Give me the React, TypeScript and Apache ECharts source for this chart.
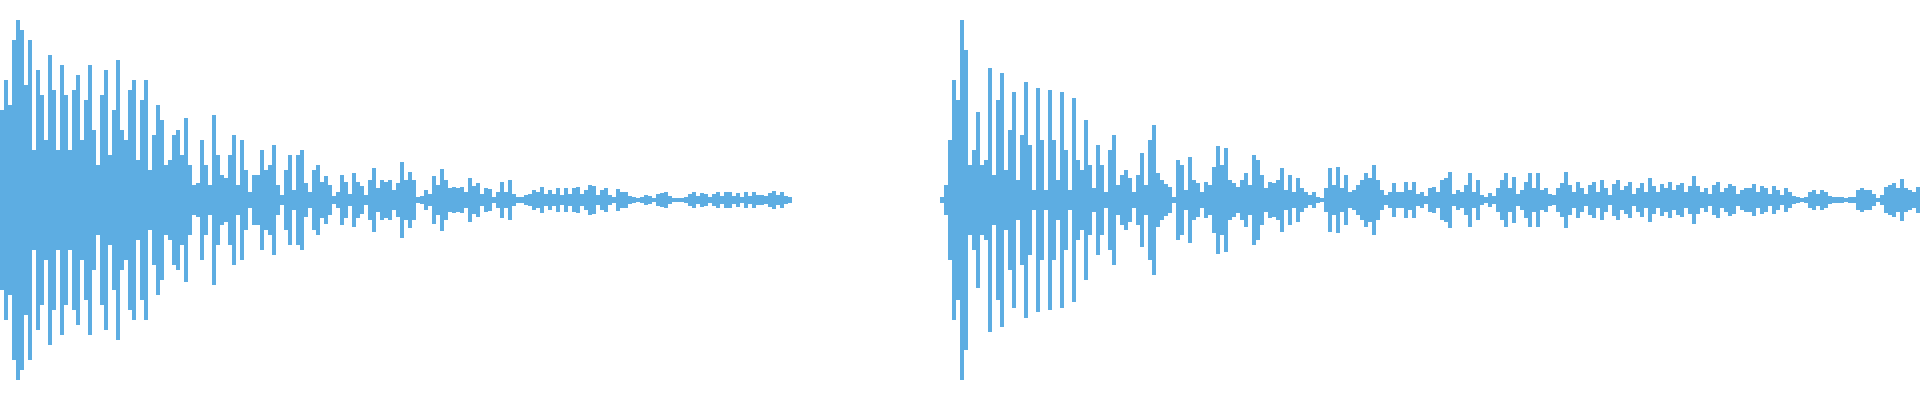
import React, { useEffect, useRef } from "react";
import * as echarts from "echarts";

// Waveform amplitude per 4px column (first clip)
const clipA: number[] = [
  90,120,95,160,180,170,115,160,50,130,
  105,60,145,110,50,135,105,50,110,125,
  60,100,135,70,35,105,130,45,90,140,
  70,60,110,120,40,100,120,30,65,95,
  80,35,40,65,70,45,82,35,15,17,
  60,35,15,85,45,25,22,45,65,15,
  60,30,8,25,25,50,30,35,55,15,
  5,30,45,10,45,50,17,8,30,35,
  18,24,15,4,8,25,18,6,27,18,
  14,5,20,32,12,20,18,20,10,17,
  38,20,28,20,3,4,10,6,24,15,
  31,20,12,13,12,13,8,22,14,17,
  6,12,11,3,8,18,8,20,6,3,
  3,5,6,10,8,13,6,10,6,12,
  5,12,6,12,13,6,10,15,14,5,
  10,12,5,3,11,8,8,4,3,2,
  3,5,4,2,6,7,8,4,2,2,
  2,3,6,8,4,7,6,3,6,8,
  4,8,8,4,7,3,8,4,8,5,
  5,4,7,9,5,8,4,3,
];

// Silence between the two clips
const gap: (number | null)[] = new Array(37).fill(null);

// Waveform amplitude per 4px column (second clip)
const clipB: number[] = [
  3,
  15,60,120,100,180,150,35,50,88,35,
  40,132,25,100,127,30,70,108,20,65,
  118,55,10,112,60,10,110,60,20,108,
  50,10,102,40,30,80,35,12,55,35,
  8,50,65,15,25,30,22,8,25,47,
  15,60,75,27,20,16,13,3,40,35,
  10,43,20,17,8,18,15,33,54,35,
  52,20,17,13,20,27,15,45,40,25,
  12,18,17,20,32,10,25,8,22,12,
  8,5,8,3,2,12,32,15,33,12,
  25,8,10,15,20,27,22,35,20,10,
  5,8,17,8,8,18,10,18,6,8,
  4,12,13,8,20,22,28,6,10,8,
  15,27,8,20,5,3,7,4,12,20,
  27,12,23,6,10,18,27,12,27,10,
  12,6,5,12,17,28,15,8,18,12,
  6,15,18,8,20,12,5,16,20,10,
  14,18,6,12,17,8,22,14,8,16,
  12,18,10,15,17,8,14,24,14,8,
  12,6,15,18,8,12,16,14,6,10,
  12,12,16,8,14,12,6,14,10,5,
  12,8,4,3,2,3,8,10,6,10,
  8,4,3,3,3,2,3,3,10,12,
  10,10,6,2,5,13,15,17,12,21,
  12,10,8,13,
];

const COLOR = "#5dade2";

export default function App() {
  const ref = useRef<HTMLDivElement>(null);
  useEffect(() => {
    if (!ref.current) return;
    const chart = echarts.init(ref.current, undefined, { renderer: "svg" });
    const values: (number | null)[] = [...clipA, ...gap, ...clipB];
    const categories = values.map((_, i) => String(i));
    const upper = values;
    const lower = values.map((v) => (v == null ? null : -v));
    chart.setOption({
      animation: false,
      grid: { left: 0, right: 0, top: 0, bottom: 0 },
      xAxis: { type: "category", data: categories, show: false },
      yAxis: { type: "value", min: -200, max: 200, show: false },
      series: [
        {
          type: "bar",
          data: upper,
          barGap: "-100%",
          barCategoryGap: "0%",
          itemStyle: { color: COLOR },
          silent: true,
        },
        {
          type: "bar",
          data: lower,
          barGap: "-100%",
          barCategoryGap: "0%",
          itemStyle: { color: COLOR },
          silent: true,
        },
      ],
    });
    return () => chart.dispose();
  }, []);
  return (
    <div
      ref={ref}
      style={{ position: "absolute", left: 0, top: 0, width: 1920, height: 400 }}
    />
  );
}
